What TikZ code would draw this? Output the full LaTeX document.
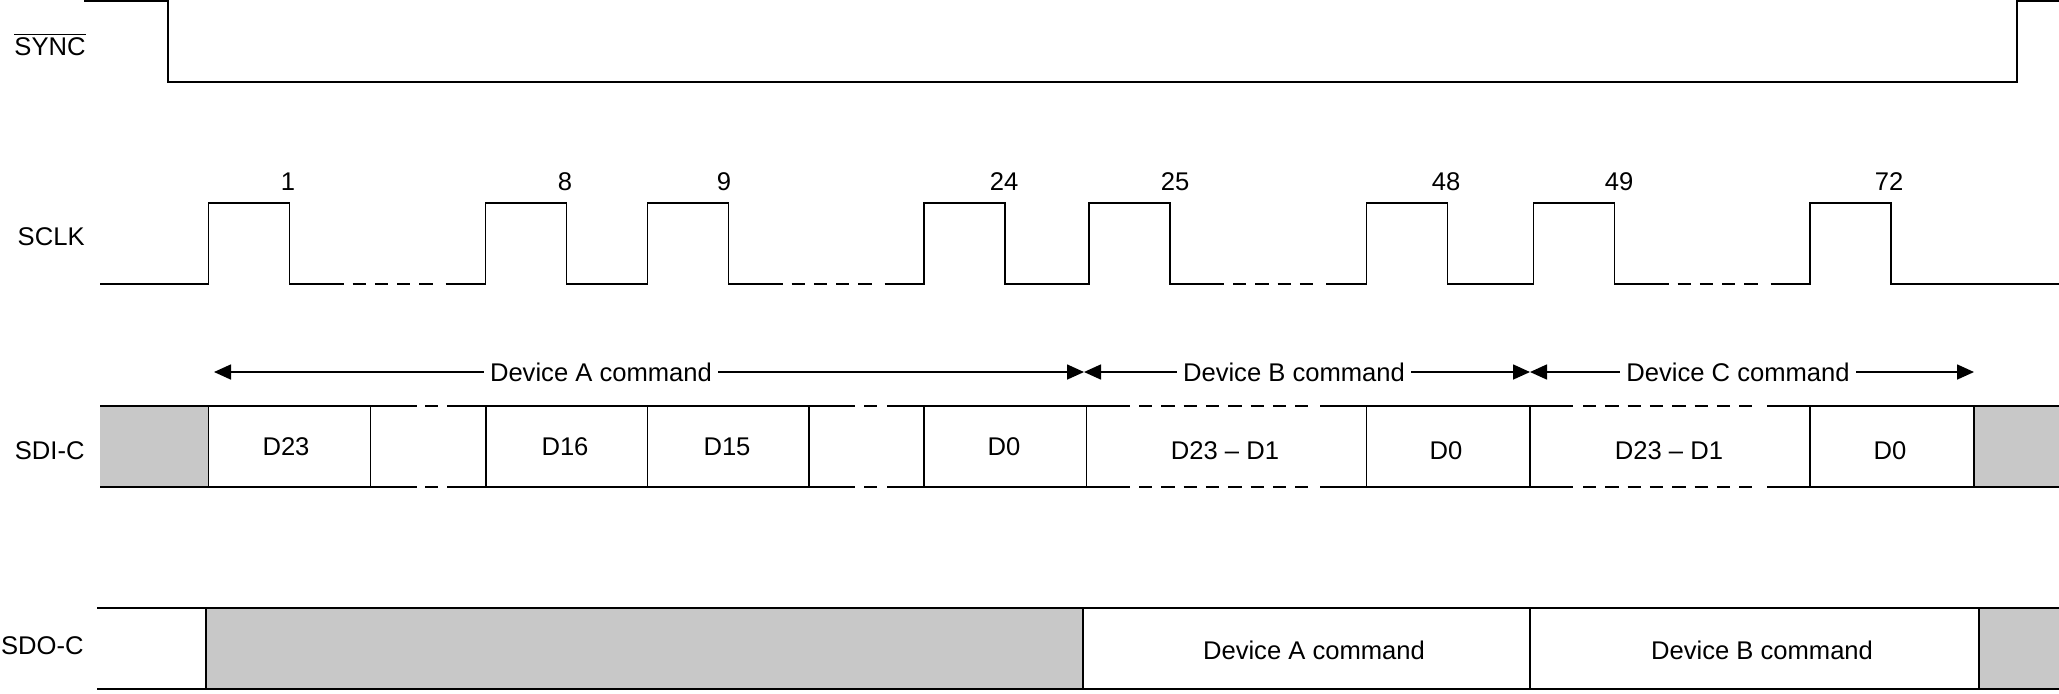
\documentclass[tikz,border=0pt]{standalone}
\usepackage{fontspec}
\setmainfont{Liberation Sans}
\usepackage{xcolor}
\definecolor{tdgray}{RGB}{200,200,200}
\usetikzlibrary{arrows.meta,positioning}

\begin{document}
\begin{tikzpicture}[
    x=0.5pt, y=-0.5pt,
    sig/.style={line width=0.8pt, black},
    dashgap/.style={sig, dash pattern=on 6.65pt off 4.5pt},
    lbl/.style={anchor=base east, inner sep=0pt, font=\fontsize{12.8}{15}\selectfont},
    txt/.style={inner sep=0pt, font=\fontsize{12.8}{15}\selectfont},
    cmd/.style={inner xsep=3pt, inner ysep=0pt, font=\fontsize{12.8}{15}\selectfont},
    arr/.style={sig, -{Triangle[length=8.5pt, width=7.5pt]}}
  ]
    \useasboundingbox (0,0) rectangle (2059,693);

    % Signal names
    \node[lbl] (syncl) at (86,55)  {$\overline{\mbox{SYNC}}$};
    \node[lbl] (sclkl) at (85,245) {SCLK};
    \node[lbl] (sdil)  at (85,459) {SDI-C};
    \node[lbl] (sdol)  at (84,654) {SDO-C};

    % SYNC
    \draw[sig] (84,1) -- (168,1) -- (168,82) -- (2017,82) -- (2017,1) -- (2059,1);

    % SCLK
    \draw[sig] (100,284) -- (208.5,284) -- (208.5,203) -- (289.5,203) -- (289.5,284) -- (343.5,284);
    \draw[dashgap] (352.5,284) -- (433.5,284);
    \draw[sig] (445.5,284) -- (485.5,284) -- (485.5,203) -- (566.5,203) -- (566.5,284)
      -- (647.5,284) -- (647.5,203) -- (728.5,203) -- (728.5,284) -- (782.5,284);
    \draw[dashgap] (791.5,284) -- (872.5,284);
    \draw[sig] (884.5,284) -- (924,284) -- (924,203) -- (1005,203) -- (1005,284)
      -- (1089,284) -- (1089,203) -- (1170,203) -- (1170,284) -- (1224,284);
    \draw[dashgap] (1233,284) -- (1314,284);
    \draw[sig] (1326,284) -- (1366.5,284) -- (1366.5,203) -- (1447.5,203) -- (1447.5,284)
      -- (1533.5,284) -- (1533.5,203) -- (1614.5,203) -- (1614.5,284) -- (1668.5,284);
    \draw[dashgap] (1677.5,284) -- (1758.5,284);
    \draw[sig] (1770.5,284) -- (1810,284) -- (1810,203) -- (1891,203) -- (1891,284) -- (2059,284);

    % Clock numbers
    \node[txt] (c1)  at (288,182)  {1};
    \node[txt] (c8)  at (565,182)  {8};
    \node[txt] (c9)  at (724,182)  {9};
    \node[txt] (c24) at (1004,182) {24};
    \node[txt] (c25) at (1175,182) {25};
    \node[txt] (c48) at (1446,182) {48};
    \node[txt] (c49) at (1619,182) {49};
    \node[txt] (c72) at (1889,182) {72};

    % Command spans
    \coordinate (ta)  at (214,372);
    \coordinate (tab) at (1084,372);
    \coordinate (tbc) at (1530,372);
    \coordinate (tc)  at (1974,372);
    \node[cmd] (cmda) at (601,372)  {Device A command};
    \node[cmd] (cmdb) at (1294,372) {Device B command};
    \node[cmd] (cmdc) at (1738,372) {Device C command};
    \draw[arr] (cmda.west) -- (ta);
    \draw[arr] (cmda.east) -- (tab);
    \draw[arr] (cmdb.west) -- (tab);
    \draw[arr] (cmdb.east) -- (tbc);
    \draw[arr] (cmdc.west) -- (tbc);
    \draw[arr] (cmdc.east) -- (tc);

    % SDI-C
    \fill[tdgray] (100,406) rectangle (208.5,487);
    \fill[tdgray] (1974,406) rectangle (2059,487);
    \foreach \y in {406,487} {
      \draw[sig] (100,\y) -- (417,\y);
      \draw[dashgap] (425,\y) -- (439,\y);
      \draw[sig] (447,\y) -- (855,\y);
      \draw[dashgap] (864,\y) -- (878,\y);
      \draw[sig] (887,\y) -- (1130,\y);
      \draw[dashgap] (1139,\y) -- (1311,\y);
      \draw[sig] (1320,\y) -- (1573,\y);
      \draw[dashgap] (1583,\y) -- (1758,\y);
      \draw[sig] (1767,\y) -- (2059,\y);
    }
    \foreach \x in {208.5,370.5,486,647.5,809,924,1086.5,1366.5,1530,1810,1974}
      \draw[sig] (\x,406) -- (\x,487);
    \node[txt] (d23)  at (286,447)  {D23};
    \node[txt] (d16)  at (565,447)  {D16};
    \node[txt] (d15)  at (727,447)  {D15};
    \node[txt] (d0a)  at (1004,447) {D0};
    \node[txt] (d23b) at (1225,451) {D23 -- D1};
    \node[txt] (d0b)  at (1446,451) {D0};
    \node[txt] (d23c) at (1669,451) {D23 -- D1};
    \node[txt] (d0c)  at (1890,451) {D0};

    % SDO-C
    \fill[tdgray] (206,608) rectangle (1083,689);
    \fill[tdgray] (1979,608) rectangle (2059,689);
    \draw[sig] (97,608) -- (2059,608);
    \draw[sig] (97,689) -- (2059,689);
    \foreach \x in {206,1083,1530,1979}
      \draw[sig] (\x,608) -- (\x,689);
    \node[txt] (sdoa) at (1314,650) {Device A command};
    \node[txt] (sdob) at (1762,650) {Device B command};
\end{tikzpicture}
\end{document}
